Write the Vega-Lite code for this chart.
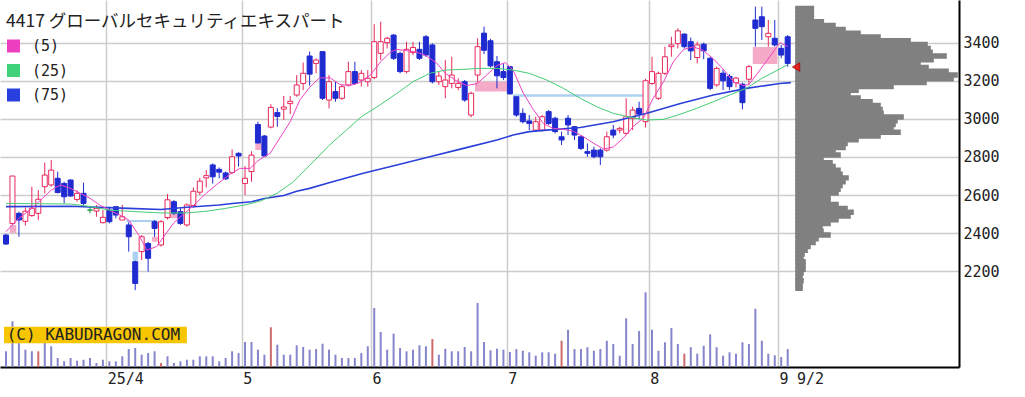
{
"$schema": "https://vega.github.io/schema/vega-lite/v6.json",
"width": 959, "height": 367, "padding": 0,
"autosize": {"type": "pad"},
"background": "white",
"config": {"view": {"stroke": null}},
"resolve": {"scale": {"x": "independent", "y": "independent", "color": "independent"}, "axis": {"x": "independent", "y": "independent"}},
"datasets": {
"candles": [
{"i":0,"o":2390,"h":2395,"l":2338,"c":2343,"v":15.7,"r":0},
{"i":1,"o":2451,"h":2700,"l":2443,"c":2700,"v":45.7,"r":0},
{"i":2,"o":2504,"h":2513,"l":2381,"c":2469,"v":24,"r":0},
{"i":3,"o":2462,"h":2535,"l":2440,"c":2515,"v":17.3,"r":0},
{"i":4,"o":2492,"h":2644,"l":2486,"c":2531,"v":15.7,"r":0},
{"i":5,"o":2504,"h":2626,"l":2469,"c":2578,"v":15.7,"r":1},
{"i":6,"o":2644,"h":2770,"l":2609,"c":2705,"v":24,"r":0},
{"i":7,"o":2653,"h":2784,"l":2644,"c":2731,"v":20.7,"r":0},
{"i":8,"o":2688,"h":2723,"l":2609,"c":2613,"v":9,"r":0},
{"i":9,"o":2661,"h":2670,"l":2556,"c":2591,"v":5.7,"r":0},
{"i":10,"o":2679,"h":2682,"l":2591,"c":2595,"v":9,"r":0},
{"i":11,"o":2577,"h":2626,"l":2565,"c":2609,"v":6.3,"r":0},
{"i":12,"o":2609,"h":2665,"l":2548,"c":2556,"v":7.3,"r":0},
{"i":13,"o":2521,"h":2539,"l":2504,"c":2521,"v":9,"r":0},
{"i":14,"o":2516,"h":2548,"l":2486,"c":2530,"v":4,"r":0},
{"i":15,"o":2455,"h":2521,"l":2451,"c":2483,"v":7.3,"r":0},
{"i":16,"o":2521,"h":2539,"l":2451,"c":2460,"v":5.7,"r":0},
{"i":17,"o":2539,"h":2539,"l":2478,"c":2495,"v":5.7,"r":0},
{"i":18,"o":2469,"h":2548,"l":2469,"c":2486,"v":10.7,"r":0},
{"i":19,"o":2443,"h":2458,"l":2303,"c":2381,"v":18,"r":0},
{"i":20,"o":2250,"h":2256,"l":2101,"c":2136,"v":19,"r":0},
{"i":21,"o":2303,"h":2390,"l":2259,"c":2381,"v":12.3,"r":0},
{"i":22,"o":2346,"h":2355,"l":2198,"c":2268,"v":14,"r":0},
{"i":23,"o":2460,"h":2469,"l":2381,"c":2425,"v":15.7,"r":0},
{"i":24,"o":2338,"h":2469,"l":2329,"c":2460,"v":4,"r":1},
{"i":25,"o":2482,"h":2605,"l":2472,"c":2575,"v":10.7,"r":0},
{"i":26,"o":2565,"h":2574,"l":2495,"c":2504,"v":4,"r":0},
{"i":27,"o":2513,"h":2530,"l":2443,"c":2451,"v":5.7,"r":0},
{"i":28,"o":2443,"h":2556,"l":2434,"c":2548,"v":7.3,"r":0},
{"i":29,"o":2545,"h":2640,"l":2535,"c":2620,"v":7.3,"r":0},
{"i":30,"o":2615,"h":2690,"l":2600,"c":2673,"v":10.7,"r":0},
{"i":31,"o":2690,"h":2731,"l":2640,"c":2702,"v":10.7,"r":0},
{"i":32,"o":2758,"h":2766,"l":2660,"c":2696,"v":10.7,"r":0},
{"i":33,"o":2735,"h":2745,"l":2688,"c":2720,"v":5.7,"r":0},
{"i":34,"o":2716,"h":2723,"l":2679,"c":2685,"v":9,"r":0},
{"i":35,"o":2718,"h":2840,"l":2710,"c":2801,"v":15.7,"r":0},
{"i":36,"o":2819,"h":2825,"l":2749,"c":2805,"v":14,"r":0},
{"i":37,"o":2661,"h":2752,"l":2600,"c":2688,"v":25,"r":0},
{"i":38,"o":2723,"h":2830,"l":2670,"c":2810,"v":25,"r":0},
{"i":39,"o":2970,"h":2985,"l":2872,"c":2873,"v":17.3,"r":0},
{"i":40,"o":2910,"h":2915,"l":2801,"c":2805,"v":12.3,"r":0},
{"i":41,"o":2957,"h":3077,"l":2950,"c":3060,"v":39.7,"r":1},
{"i":42,"o":3033,"h":3055,"l":2959,"c":3013,"v":22.3,"r":0},
{"i":43,"o":3051,"h":3120,"l":2994,"c":3062,"v":12.3,"r":0},
{"i":44,"o":3080,"h":3120,"l":3025,"c":3092,"v":12.3,"r":0},
{"i":45,"o":3125,"h":3230,"l":3116,"c":3178,"v":21.7,"r":0},
{"i":46,"o":3186,"h":3296,"l":3151,"c":3239,"v":20,"r":0},
{"i":47,"o":3330,"h":3353,"l":3174,"c":3235,"v":17.3,"r":0},
{"i":48,"o":3291,"h":3318,"l":3239,"c":3309,"v":18,"r":0},
{"i":49,"o":3353,"h":3353,"l":3099,"c":3108,"v":23.3,"r":0},
{"i":50,"o":3099,"h":3230,"l":3055,"c":3195,"v":17.3,"r":0},
{"i":51,"o":3143,"h":3195,"l":3090,"c":3108,"v":12.3,"r":0},
{"i":52,"o":3108,"h":3178,"l":3099,"c":3169,"v":9,"r":0},
{"i":53,"o":3178,"h":3300,"l":3169,"c":3248,"v":9,"r":0},
{"i":54,"o":3248,"h":3300,"l":3178,"c":3186,"v":9,"r":0},
{"i":55,"o":3204,"h":3256,"l":3169,"c":3239,"v":14,"r":0},
{"i":56,"o":3195,"h":3256,"l":3169,"c":3213,"v":20.7,"r":0},
{"i":57,"o":3217,"h":3497,"l":3208,"c":3405,"v":59,"r":0},
{"i":58,"o":3344,"h":3510,"l":3309,"c":3405,"v":35,"r":0},
{"i":59,"o":3400,"h":3431,"l":3370,"c":3423,"v":17.3,"r":0},
{"i":60,"o":3440,"h":3445,"l":3309,"c":3318,"v":33.3,"r":0},
{"i":61,"o":3344,"h":3353,"l":3239,"c":3248,"v":19,"r":0},
{"i":62,"o":3248,"h":3405,"l":3239,"c":3365,"v":15.7,"r":0},
{"i":63,"o":3348,"h":3405,"l":3335,"c":3375,"v":17.3,"r":0},
{"i":64,"o":3365,"h":3405,"l":3309,"c":3318,"v":21.7,"r":0},
{"i":65,"o":3431,"h":3440,"l":3326,"c":3335,"v":20.7,"r":0},
{"i":66,"o":3388,"h":3396,"l":3186,"c":3195,"v":28,"r":1},
{"i":67,"o":3195,"h":3248,"l":3178,"c":3225,"v":12.3,"r":0},
{"i":68,"o":3169,"h":3309,"l":3108,"c":3204,"v":18.3,"r":0},
{"i":69,"o":3186,"h":3326,"l":3160,"c":3230,"v":15.7,"r":0},
{"i":70,"o":3165,"h":3213,"l":3151,"c":3186,"v":15.7,"r":0},
{"i":71,"o":3195,"h":3204,"l":3090,"c":3099,"v":20,"r":0},
{"i":72,"o":3020,"h":3143,"l":3008,"c":3134,"v":15.7,"r":0},
{"i":73,"o":3230,"h":3423,"l":3195,"c":3379,"v":64,"r":0},
{"i":74,"o":3450,"h":3484,"l":3340,"c":3360,"v":25,"r":0},
{"i":75,"o":3410,"h":3420,"l":3270,"c":3278,"v":16.7,"r":0},
{"i":76,"o":3300,"h":3330,"l":3160,"c":3226,"v":18.3,"r":0},
{"i":77,"o":3248,"h":3291,"l":3204,"c":3217,"v":17.3,"r":0},
{"i":78,"o":3274,"h":3278,"l":3129,"c":3131,"v":15,"r":0},
{"i":79,"o":3116,"h":3116,"l":3011,"c":3020,"v":18,"r":0},
{"i":80,"o":3029,"h":3055,"l":2976,"c":2985,"v":16.3,"r":0},
{"i":81,"o":2989,"h":3020,"l":2941,"c":2976,"v":14.7,"r":0},
{"i":82,"o":2941,"h":3011,"l":2933,"c":2985,"v":11.3,"r":0},
{"i":83,"o":2941,"h":3020,"l":2933,"c":3011,"v":14.7,"r":0},
{"i":84,"o":3038,"h":3046,"l":2968,"c":2976,"v":14.7,"r":0},
{"i":85,"o":3003,"h":3011,"l":2924,"c":2933,"v":13.3,"r":0},
{"i":86,"o":2906,"h":2933,"l":2863,"c":2889,"v":26.3,"r":1},
{"i":87,"o":3003,"h":3020,"l":2915,"c":2968,"v":37.3,"r":0},
{"i":88,"o":2959,"h":2962,"l":2889,"c":2915,"v":18,"r":0},
{"i":89,"o":2906,"h":2915,"l":2836,"c":2845,"v":18,"r":0},
{"i":90,"o":2828,"h":2871,"l":2801,"c":2819,"v":19.7,"r":0},
{"i":91,"o":2836,"h":2854,"l":2793,"c":2801,"v":16.3,"r":0},
{"i":92,"o":2836,"h":2845,"l":2758,"c":2801,"v":18,"r":0},
{"i":93,"o":2836,"h":2933,"l":2828,"c":2906,"v":26.3,"r":0},
{"i":94,"o":2941,"h":2968,"l":2898,"c":2915,"v":23,"r":0},
{"i":95,"o":2941,"h":2959,"l":2924,"c":2950,"v":11.3,"r":0},
{"i":96,"o":2924,"h":3108,"l":2915,"c":3011,"v":48.7,"r":0},
{"i":97,"o":3003,"h":3064,"l":2941,"c":3046,"v":23,"r":0},
{"i":98,"o":3055,"h":3090,"l":2998,"c":3025,"v":36,"r":0},
{"i":99,"o":2985,"h":3210,"l":2955,"c":3200,"v":74.7,"r":0},
{"i":100,"o":3186,"h":3326,"l":3178,"c":3248,"v":37.3,"r":0},
{"i":101,"o":3108,"h":3248,"l":3099,"c":3239,"v":16.3,"r":0},
{"i":102,"o":3239,"h":3379,"l":3230,"c":3326,"v":24.7,"r":0},
{"i":103,"o":3379,"h":3431,"l":3326,"c":3388,"v":39,"r":0},
{"i":104,"o":3395,"h":3475,"l":3370,"c":3462,"v":23,"r":0},
{"i":105,"o":3445,"h":3449,"l":3370,"c":3379,"v":13.3,"r":1},
{"i":106,"o":3405,"h":3427,"l":3309,"c":3357,"v":19.7,"r":0},
{"i":107,"o":3322,"h":3405,"l":3291,"c":3388,"v":13.3,"r":0},
{"i":108,"o":3392,"h":3400,"l":3313,"c":3357,"v":21.3,"r":0},
{"i":109,"o":3318,"h":3326,"l":3151,"c":3160,"v":32.7,"r":0},
{"i":110,"o":3178,"h":3274,"l":3169,"c":3265,"v":19.7,"r":0},
{"i":111,"o":3240,"h":3260,"l":3151,"c":3200,"v":11.3,"r":0},
{"i":112,"o":3223,"h":3235,"l":3151,"c":3169,"v":14.7,"r":0},
{"i":113,"o":3190,"h":3221,"l":3165,"c":3214,"v":13.3,"r":0},
{"i":114,"o":3182,"h":3190,"l":3050,"c":3085,"v":24.7,"r":0},
{"i":115,"o":3208,"h":3283,"l":3178,"c":3274,"v":23,"r":0},
{"i":116,"o":3519,"h":3589,"l":3379,"c":3475,"v":58.3,"r":0},
{"i":117,"o":3536,"h":3589,"l":3414,"c":3484,"v":26.3,"r":0},
{"i":118,"o":3431,"h":3519,"l":3379,"c":3449,"v":13.3,"r":0},
{"i":119,"o":3423,"h":3519,"l":3379,"c":3388,"v":11.7,"r":0},
{"i":120,"o":3370,"h":3388,"l":3318,"c":3335,"v":10,"r":0},
{"i":121,"o":3431,"h":3440,"l":3274,"c":3291,"v":18,"r":0}
],
"ma": [
{"i":0,"v":2408,"ma":"(5)"},{"i":1,"v":2443,"ma":"(5)"},{"i":2,"v":2478,"ma":"(5)"},{"i":4,"v":2530,"ma":"(5)"},{"i":7,"v":2626,"ma":"(5)"},{"i":8.4,"v":2653,"ma":"(5)"},{"i":10,"v":2635,"ma":"(5)"},{"i":11.5,"v":2609,"ma":"(5)"},{"i":13,"v":2583,"ma":"(5)"},{"i":14.5,"v":2548,"ma":"(5)"},{"i":16,"v":2521,"ma":"(5)"},{"i":17.6,"v":2495,"ma":"(5)"},{"i":19,"v":2469,"ma":"(5)"},{"i":20.7,"v":2381,"ma":"(5)"},{"i":21.8,"v":2311,"ma":"(5)"},{"i":23.3,"v":2329,"ma":"(5)"},{"i":26,"v":2455,"ma":"(5)"},{"i":28,"v":2515,"ma":"(5)"},{"i":29.5,"v":2560,"ma":"(5)"},{"i":31,"v":2610,"ma":"(5)"},{"i":32.6,"v":2655,"ma":"(5)"},{"i":34.7,"v":2710,"ma":"(5)"},{"i":36.2,"v":2740,"ma":"(5)"},{"i":37.8,"v":2740,"ma":"(5)"},{"i":39,"v":2780,"ma":"(5)"},{"i":40.9,"v":2820,"ma":"(5)"},{"i":42.4,"v":2900,"ma":"(5)"},{"i":44,"v":2985,"ma":"(5)"},{"i":45.5,"v":3100,"ma":"(5)"},{"i":47,"v":3165,"ma":"(5)"},{"i":48.5,"v":3215,"ma":"(5)"},{"i":50.2,"v":3215,"ma":"(5)"},{"i":51.7,"v":3180,"ma":"(5)"},{"i":53.3,"v":3175,"ma":"(5)"},{"i":54.8,"v":3192,"ma":"(5)"},{"i":56.4,"v":3230,"ma":"(5)"},{"i":58,"v":3300,"ma":"(5)"},{"i":59.5,"v":3350,"ma":"(5)"},{"i":60.5,"v":3365,"ma":"(5)"},{"i":62,"v":3358,"ma":"(5)"},{"i":63.6,"v":3350,"ma":"(5)"},{"i":65,"v":3332,"ma":"(5)"},{"i":66.6,"v":3295,"ma":"(5)"},{"i":68,"v":3240,"ma":"(5)"},{"i":69.7,"v":3200,"ma":"(5)"},{"i":71.3,"v":3175,"ma":"(5)"},{"i":72.9,"v":3185,"ma":"(5)"},{"i":74.4,"v":3230,"ma":"(5)"},{"i":76,"v":3280,"ma":"(5)"},{"i":77.3,"v":3295,"ma":"(5)"},{"i":78.5,"v":3256,"ma":"(5)"},{"i":80,"v":3140,"ma":"(5)"},{"i":81.6,"v":3050,"ma":"(5)"},{"i":83.2,"v":2975,"ma":"(5)"},{"i":84.7,"v":2950,"ma":"(5)"},{"i":86.3,"v":2945,"ma":"(5)"},{"i":87.8,"v":2935,"ma":"(5)"},{"i":89.4,"v":2906,"ma":"(5)"},{"i":91,"v":2871,"ma":"(5)"},{"i":92.5,"v":2842,"ma":"(5)"},{"i":94,"v":2852,"ma":"(5)"},{"i":95.6,"v":2900,"ma":"(5)"},{"i":97.1,"v":2960,"ma":"(5)"},{"i":98.7,"v":3005,"ma":"(5)"},{"i":100.2,"v":3110,"ma":"(5)"},{"i":101.8,"v":3195,"ma":"(5)"},{"i":103.3,"v":3300,"ma":"(5)"},{"i":104.9,"v":3365,"ma":"(5)"},{"i":106.4,"v":3378,"ma":"(5)"},{"i":107.9,"v":3360,"ma":"(5)"},{"i":109.5,"v":3315,"ma":"(5)"},{"i":111,"v":3262,"ma":"(5)"},{"i":112.6,"v":3195,"ma":"(5)"},{"i":114.1,"v":3175,"ma":"(5)"},{"i":115,"v":3180,"ma":"(5)"},{"i":116.7,"v":3256,"ma":"(5)"},{"i":118.3,"v":3330,"ma":"(5)"},{"i":119.8,"v":3400,"ma":"(5)"},{"i":121,"v":3380,"ma":"(5)"},
{"i":0,"v":2556,"ma":"(25)"},{"i":10,"v":2553,"ma":"(25)"},{"i":13,"v":2540,"ma":"(25)"},{"i":16,"v":2521,"ma":"(25)"},{"i":20,"v":2513,"ma":"(25)"},{"i":24,"v":2506,"ma":"(25)"},{"i":28,"v":2506,"ma":"(25)"},{"i":31,"v":2515,"ma":"(25)"},{"i":34,"v":2530,"ma":"(25)"},{"i":37,"v":2548,"ma":"(25)"},{"i":39.5,"v":2570,"ma":"(25)"},{"i":42,"v":2610,"ma":"(25)"},{"i":44.5,"v":2670,"ma":"(25)"},{"i":47,"v":2755,"ma":"(25)"},{"i":50,"v":2860,"ma":"(25)"},{"i":52.7,"v":2941,"ma":"(25)"},{"i":55,"v":3011,"ma":"(25)"},{"i":57.9,"v":3073,"ma":"(25)"},{"i":60.5,"v":3134,"ma":"(25)"},{"i":63,"v":3195,"ma":"(25)"},{"i":65.6,"v":3239,"ma":"(25)"},{"i":68,"v":3256,"ma":"(25)"},{"i":70.8,"v":3260,"ma":"(25)"},{"i":73.4,"v":3265,"ma":"(25)"},{"i":76,"v":3265,"ma":"(25)"},{"i":78.5,"v":3256,"ma":"(25)"},{"i":81,"v":3239,"ma":"(25)"},{"i":83.7,"v":3204,"ma":"(25)"},{"i":86.3,"v":3160,"ma":"(25)"},{"i":88.9,"v":3108,"ma":"(25)"},{"i":91.4,"v":3064,"ma":"(25)"},{"i":94,"v":3029,"ma":"(25)"},{"i":96.6,"v":3008,"ma":"(25)"},{"i":99.2,"v":2994,"ma":"(25)"},{"i":101.7,"v":2997,"ma":"(25)"},{"i":104,"v":3020,"ma":"(25)"},{"i":106.9,"v":3055,"ma":"(25)"},{"i":109.5,"v":3090,"ma":"(25)"},{"i":112,"v":3125,"ma":"(25)"},{"i":114.6,"v":3160,"ma":"(25)"},{"i":117,"v":3213,"ma":"(25)"},{"i":119.8,"v":3262,"ma":"(25)"},{"i":121,"v":3285,"ma":"(25)"},
{"i":0,"v":2539,"ma":"(75)"},{"i":10,"v":2541,"ma":"(75)"},{"i":19,"v":2530,"ma":"(75)"},{"i":24,"v":2524,"ma":"(75)"},{"i":28,"v":2536,"ma":"(75)"},{"i":33,"v":2548,"ma":"(75)"},{"i":35,"v":2556,"ma":"(75)"},{"i":38,"v":2565,"ma":"(75)"},{"i":40,"v":2582,"ma":"(75)"},{"i":43,"v":2598,"ma":"(75)"},{"i":45,"v":2620,"ma":"(75)"},{"i":47,"v":2635,"ma":"(75)"},{"i":50,"v":2665,"ma":"(75)"},{"i":55.3,"v":2714,"ma":"(75)"},{"i":60.5,"v":2758,"ma":"(75)"},{"i":65.6,"v":2801,"ma":"(75)"},{"i":70.8,"v":2845,"ma":"(75)"},{"i":76,"v":2889,"ma":"(75)"},{"i":78.5,"v":2915,"ma":"(75)"},{"i":81,"v":2933,"ma":"(75)"},{"i":83.7,"v":2941,"ma":"(75)"},{"i":88.9,"v":2955,"ma":"(75)"},{"i":94,"v":2985,"ma":"(75)"},{"i":99.2,"v":3029,"ma":"(75)"},{"i":104.4,"v":3081,"ma":"(75)"},{"i":109.5,"v":3125,"ma":"(75)"},{"i":114.6,"v":3160,"ma":"(75)"},{"i":119.8,"v":3186,"ma":"(75)"},{"i":121.5,"v":3190,"ma":"(75)"}
],
"gaps": [
{"s":0.6,"e":1.6,"lo":2401,"hi":2443,"t":"up"},
{"s":18.6,"e":23.4,"lo":2458,"hi":2469,"t":"down"},
{"s":19.6,"e":20.45,"lo":2256,"hi":2303,"t":"down"},
{"s":22.6,"e":23.5,"lo":2355,"hi":2381,"t":"up"},
{"s":24.6,"e":26.6,"lo":2478,"hi":2504,"t":"up"},
{"s":38.6,"e":39.6,"lo":2837,"hi":2872,"t":"up"},
{"s":72.6,"e":77.6,"lo":3143,"hi":3195,"t":"up"},
{"s":78.5,"e":98.6,"lo":3116,"hi":3129,"t":"down"},
{"s":115.6,"e":119.4,"lo":3288,"hi":3377,"t":"up"}
],
"profile": [
{"lo":3580,"hi":3590,"v":17.3},{"lo":3560,"hi":3580,"v":17.3},{"lo":3540,"hi":3560,"v":17.3},{"lo":3520,"hi":3540,"v":17.3},{"lo":3500,"hi":3520,"v":27.3},{"lo":3480,"hi":3500,"v":39},{"lo":3460,"hi":3480,"v":49},{"lo":3440,"hi":3460,"v":64},{"lo":3420,"hi":3440,"v":84},{"lo":3400,"hi":3420,"v":114},{"lo":3380,"hi":3400,"v":131},{"lo":3360,"hi":3380,"v":134},{"lo":3340,"hi":3360,"v":136},{"lo":3320,"hi":3340,"v":150},{"lo":3300,"hi":3320,"v":137},{"lo":3280,"hi":3300,"v":124},{"lo":3260,"hi":3280,"v":132},{"lo":3240,"hi":3260,"v":152},{"lo":3220,"hi":3240,"v":161},{"lo":3200,"hi":3220,"v":157},{"lo":3180,"hi":3200,"v":130},{"lo":3160,"hi":3180,"v":97},{"lo":3140,"hi":3160,"v":62},{"lo":3120,"hi":3140,"v":54},{"lo":3100,"hi":3120,"v":64},{"lo":3080,"hi":3100,"v":76},{"lo":3060,"hi":3080,"v":84},{"lo":3040,"hi":3060,"v":86},{"lo":3020,"hi":3040,"v":87},{"lo":3000,"hi":3020,"v":107},{"lo":2980,"hi":3000,"v":101},{"lo":2960,"hi":2980,"v":99},{"lo":2940,"hi":2960,"v":97},{"lo":2920,"hi":2940,"v":104},{"lo":2900,"hi":2920,"v":84},{"lo":2880,"hi":2900,"v":62},{"lo":2860,"hi":2880,"v":51},{"lo":2840,"hi":2860,"v":49},{"lo":2820,"hi":2840,"v":39},{"lo":2800,"hi":2820,"v":44},{"lo":2780,"hi":2800,"v":27},{"lo":2760,"hi":2780,"v":36},{"lo":2740,"hi":2760,"v":39},{"lo":2720,"hi":2740,"v":44},{"lo":2700,"hi":2720,"v":46},{"lo":2680,"hi":2700,"v":52},{"lo":2660,"hi":2680,"v":49},{"lo":2640,"hi":2660,"v":46},{"lo":2620,"hi":2640,"v":44},{"lo":2600,"hi":2620,"v":42},{"lo":2580,"hi":2600,"v":34},{"lo":2560,"hi":2580,"v":34},{"lo":2540,"hi":2560,"v":42},{"lo":2520,"hi":2540,"v":51},{"lo":2500,"hi":2520,"v":57},{"lo":2480,"hi":2500,"v":54},{"lo":2460,"hi":2480,"v":42},{"lo":2440,"hi":2460,"v":34},{"lo":2420,"hi":2440,"v":26},{"lo":2400,"hi":2420,"v":27},{"lo":2380,"hi":2400,"v":34},{"lo":2360,"hi":2380,"v":22},{"lo":2340,"hi":2360,"v":19},{"lo":2320,"hi":2340,"v":14},{"lo":2300,"hi":2320,"v":11},{"lo":2280,"hi":2300,"v":8},{"lo":2260,"hi":2280,"v":7},{"lo":2240,"hi":2260,"v":9},{"lo":2220,"hi":2240,"v":9},{"lo":2200,"hi":2220,"v":9},{"lo":2180,"hi":2200,"v":7},{"lo":2160,"hi":2180,"v":6},{"lo":2140,"hi":2160,"v":7},{"lo":2120,"hi":2140,"v":6},{"lo":2100,"hi":2120,"v":6}
]
},
"layer": [
{
"data": {"name": "gaps"},
"mark": {"type": "rect"},
"encoding": {
"x": {"field": "s", "type": "quantitative", "scale": {"domain": [-0.929, 147.52], "nice": false, "zero": false, "padding": 0}, "axis": null},
"x2": {"field": "e"},
"y": {"field": "lo", "type": "quantitative", "scale": {"domain": [1697.25, 3624], "nice": false, "zero": false, "padding": 0}, "axis": null},
"y2": {"field": "hi"},
"color": {"condition": {"test": "datum.t == 'up'", "value": "#f5aac8"}, "value": "#acd0f2"}
}
},
{
"data": {"name": "candles"},
"mark": {"type": "bar", "size": 2},
"encoding": {
"x": {"field": "i", "type": "quantitative", "scale": {"domain": [-0.929, 147.52], "nice": false, "zero": false, "padding": 0},
"axis": {"orient": "bottom", "title": null, "values": [15.5, 36.5, 56.5, 77.5, 99.5, 119.5, 122.2],
"labelExpr": "datum.value < 20 ? '25/4' : datum.value < 40 ? '5' : datum.value < 60 ? '6' : datum.value < 80 ? '7' : datum.value < 100 ? '8' : datum.value < 121 ? '9' : '9/2'",
"grid": true, "gridColor": "#cccccc", "gridWidth": 1.5,
"gridOpacity": {"condition": {"test": "datum.value > 121", "value": 0}, "value": 1},
"ticks": false, "domain": true, "domainColor": "#000000", "domainWidth": 2,
"labelAlign": "left", "labelOffset": 1, "labelPadding": 4, "labelFont": "DejaVu Sans Mono", "labelFontSize": 15, "labelColor": "#222222",
"labelOverlap": false, "labelBound": false, "labelFlush": false}},
"y": {"field": "v", "type": "quantitative", "scale": {"domain": [0, 367], "nice": false, "zero": true, "padding": 0}, "axis": null},
"color": {"condition": {"test": "datum.r == 1", "value": "#cc6b6b"}, "value": "#8585cc"}
}
},
{
"data": {"values": [{"label": "(C) KABUDRAGON.COM"}]},
"mark": {"type": "rect", "color": "#f7c600"},
"encoding": {
"x": {"datum": -0.31, "type": "quantitative", "scale": {"domain": [-0.929, 147.52], "nice": false, "zero": false, "padding": 0}, "axis": null},
"x2": {"datum": 28.0},
"y": {"datum": 23.7, "type": "quantitative", "scale": {"domain": [0, 367], "nice": false, "zero": false, "padding": 0}, "axis": null},
"y2": {"datum": 40.3}
}
},
{
"data": {"values": [{"label": "(C) KABUDRAGON.COM"}]},
"mark": {"type": "text", "align": "left", "baseline": "middle", "font": "DejaVu Sans Mono", "fontSize": 16, "color": "#222222"},
"encoding": {
"x": {"datum": 0.1, "type": "quantitative", "scale": {"domain": [-0.929, 147.52], "nice": false, "zero": false, "padding": 0}, "axis": null},
"y": {"datum": 32, "type": "quantitative", "scale": {"domain": [0, 367], "nice": false, "zero": false, "padding": 0}, "axis": null},
"text": {"field": "label"}
}
},
{
"data": {"name": "candles"},
"mark": {"type": "rule", "strokeWidth": 1},
"encoding": {
"x": {"field": "i", "type": "quantitative", "scale": {"domain": [-0.929, 147.52], "nice": false, "zero": false, "padding": 0}, "axis": null},
"y": {"field": "l", "type": "quantitative", "scale": {"domain": [1697.25, 3624], "nice": false, "zero": false, "padding": 0},
"axis": {"orient": "right", "title": null, "values": [2200, 2400, 2600, 2800, 3000, 3200, 3400], "format": "d",
"grid": true, "gridColor": "#cccccc", "gridWidth": 1.5, "ticks": false, "domain": true, "domainColor": "#000000", "domainWidth": 2,
"labelPadding": 4, "labelFont": "DejaVu Sans Mono", "labelFontSize": 15, "labelColor": "#222222"}},
"y2": {"field": "h"},
"color": {"condition": [{"test": "datum.c == datum.o", "value": "#1a9a3a"}, {"test": "datum.c > datum.o", "value": "#e8285a"}], "value": "#1f2bd0"}
}
},
{
"data": {"name": "candles"},
"mark": {"type": "bar", "size": 5, "strokeWidth": 1},
"encoding": {
"x": {"field": "i", "type": "quantitative", "scale": {"domain": [-0.929, 147.52], "nice": false, "zero": false, "padding": 0}, "axis": null},
"y": {"field": "o", "type": "quantitative", "scale": {"domain": [1697.25, 3624], "nice": false, "zero": false, "padding": 0}, "axis": null},
"y2": {"field": "c"},
"fill": {"condition": [{"test": "datum.c == datum.o", "value": "#1a9a3a"}, {"test": "datum.c > datum.o", "value": "#ffffff"}], "value": "#1f2bd0"},
"stroke": {"condition": [{"test": "datum.c == datum.o", "value": "#1a9a3a"}, {"test": "datum.c > datum.o", "value": "#e8285a"}], "value": "#1f2bd0"}
}
},
{
"data": {"name": "ma"},
"transform": [{"filter": "datum.ma == '(75)'"}],
"mark": {"type": "line", "color": "#2a40d8", "strokeWidth": 1.6},
"encoding": {
"x": {"field": "i", "type": "quantitative", "scale": {"domain": [-0.929, 147.52], "nice": false, "zero": false, "padding": 0}, "axis": null},
"y": {"field": "v", "type": "quantitative", "scale": {"domain": [1697.25, 3624], "nice": false, "zero": false, "padding": 0}, "axis": null}
}
},
{
"data": {"name": "ma"},
"transform": [{"filter": "datum.ma != '(75)'"}],
"mark": {"type": "line", "strokeWidth": 1},
"encoding": {
"x": {"field": "i", "type": "quantitative", "scale": {"domain": [-0.929, 147.52], "nice": false, "zero": false, "padding": 0}, "axis": null},
"y": {"field": "v", "type": "quantitative", "scale": {"domain": [1697.25, 3624], "nice": false, "zero": false, "padding": 0}, "axis": null},
"color": {"field": "ma", "type": "nominal", "scale": {"domain": ["(5)", "(25)", "(75)"], "range": ["#ee44c4", "#44cc77", "#2a40d8"]},
"legend": {"orient": "none", "legendX": 6, "legendY": 13, "title": "4417 グローバルセキュリティエキスパート",
"titleFont": "Noto Sans CJK JP", "titleFontSize": 17.5, "titleFontWeight": "normal", "titleColor": "#222222", "titlePadding": 8, "titleLimit": 800,
"symbolType": "square", "symbolSize": 169, "symbolStrokeWidth": 0, "symbolOpacity": 1,
"labelFont": "DejaVu Sans Mono", "labelFontSize": 15, "labelColor": "#222222", "labelOffset": 11, "rowPadding": 8.5, "padding": 0,
"encode": {"symbols": {"update": {"fill": {"signal": "datum.value == '(5)' ? '#ee3fc0' : datum.value == '(25)' ? '#3fd27a' : '#2a3fe0'"}, "fillOpacity": {"value": 1}, "strokeWidth": {"value": 0}}}}}}
}
},
{
"data": {"name": "profile"},
"mark": {"type": "bar", "orient": "horizontal", "color": "#808080", "stroke": "#808080", "strokeWidth": 1.6},
"encoding": {
"x": {"field": "v", "type": "quantitative", "scale": {"domain": [-796, 163], "nice": false, "zero": true, "padding": 0}, "axis": null},
"y": {"field": "lo", "type": "quantitative", "scale": {"domain": [1697.25, 3624], "nice": false, "zero": false, "padding": 0}, "axis": null},
"y2": {"field": "hi"}
}
},
{
"data": {"values": [{"i": 122.3, "p": 3272}]},
"mark": {"type": "point", "shape": "triangle-left", "filled": true, "size": 75, "color": "#e8201c", "stroke": "#8b0000", "strokeWidth": 0.6, "opacity": 1},
"encoding": {
"x": {"field": "i", "type": "quantitative", "scale": {"domain": [-0.929, 147.52], "nice": false, "zero": false, "padding": 0}, "axis": null},
"y": {"field": "p", "type": "quantitative", "scale": {"domain": [1697.25, 3624], "nice": false, "zero": false, "padding": 0}, "axis": null}
}
}
]
}
